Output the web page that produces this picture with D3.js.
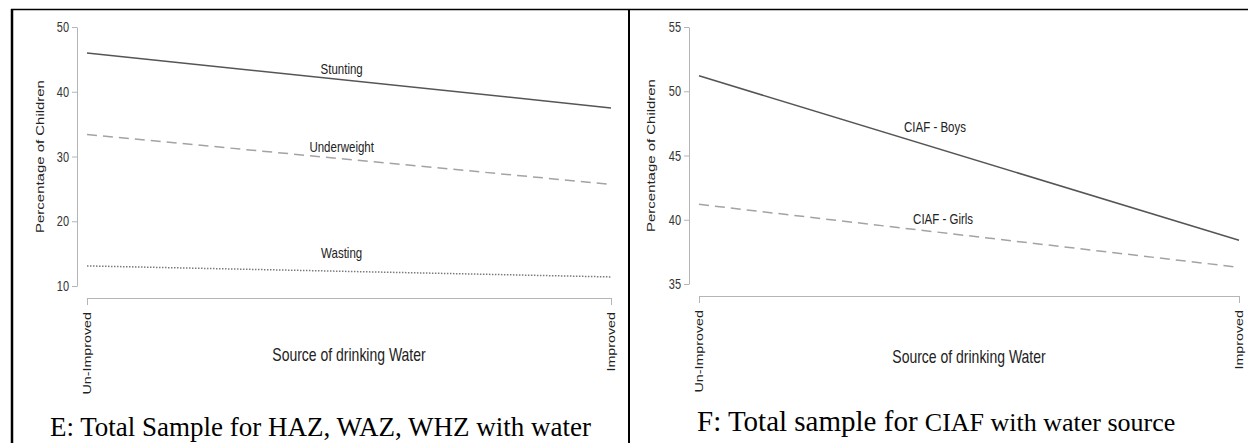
<!DOCTYPE html>
<html>
<head>
<meta charset="utf-8">
<script src="https://cdn.jsdelivr.net/npm/d3@7"></script>
<style>
  body { margin: 0; background: #fff; }
  svg { display: block; }
  .tick-label, .axis-label, .line-label { font-family: 'Liberation Sans', Arial, sans-serif; }
  .caption { font-family: 'Liberation Serif', 'Times New Roman', serif; fill: #000; }
</style>
</head>
<body>
<svg width="1248" height="443"></svg>
<script>
// categories on the x axis (both panels)
const categories = ['Un-Improved', 'Improved'];

// panel E: percentage of children
const stunting = [46.0, 37.5];
const underweight = [33.4, 25.7];
const wasting = [13.1, 11.4];
const leftTicks = [10, 20, 30, 40, 50];
const leftNames = ['Stunting', 'Underweight', 'Wasting'];
const leftLabelAt = [0.486, 0.486, 0.486];
const leftLabelValue = [43.6, 31.5, 15.1];

// panel F: CIAF by sex
const ciafBoys = [51.2, 38.4];
const ciafGirls = [41.2, 36.3];
const rightTicks = [35, 40, 45, 50, 55];
const rightNames = ['CIAF - Boys', 'CIAF - Girls'];
const rightLabelAt = [0.437, 0.452];
const rightLabelValue = [47.2, 40.1];

(function (d3) {
  'use strict';

  const svg = d3.select('svg');
  const stretch = 1.3; // the figure text is drawn tall and narrow

  const styles = {
    solid: { stroke: '#555', dash: null },
    dashed: { stroke: '#a3a3a3', dash: '10,6' },
    dotted: { stroke: '#7a7a7a', dash: '1.5,1.5' }
  };

  const render = p => {
    const g = svg.append('g');

    const xScale = d3.scaleLinear()
      .domain([0, categories.length - 1])
      .range([p.x0, p.x1]);

    const yScale = d3.scaleLinear()
      .domain(d3.extent(p.ticks))
      .range([p.yBottom, p.yTop]);

    // y axis
    const yAxisG = g.append('g')
      .attr('transform', `translate(${p.yAxisX},0)`)
      .call(d3.axisLeft(yScale)
        .tickValues(p.ticks)
        .tickSize(5)
        .tickSizeOuter(0)
        .tickPadding(3));
    yAxisG.selectAll('path, line').attr('stroke', '#b5b5b5');
    yAxisG.selectAll('text')
      .attr('class', 'tick-label')
      .attr('font-size', 11)
      .attr('fill', '#333')
      .attr('transform', `scale(1,${stretch})`);

    // x axis
    const xAxisG = g.append('g')
      .attr('transform', `translate(0,${p.xAxisY})`)
      .call(d3.axisBottom(xScale)
        .tickValues(d3.range(categories.length))
        .tickFormat(i => categories[i])
        .tickSize(7)
        .tickSizeOuter(0));
    xAxisG.selectAll('path, line').attr('stroke', '#b5b5b5');
    xAxisG.selectAll('text')
      .attr('class', 'tick-label')
      .attr('font-size', 11)
      .attr('fill', '#222')
      .attr('text-anchor', 'end')
      .attr('transform', `rotate(-90) scale(${stretch},1)`)
      .attr('x', -14 / stretch)
      .attr('y', 0)
      .attr('dy', '0.35em');

    // axis titles
    g.append('text')
      .attr('class', 'axis-label')
      .attr('transform', `translate(${p.yTitleX},${(p.yTop + p.yBottom) / 2}) rotate(-90) scale(${stretch},1)`)
      .attr('text-anchor', 'middle')
      .attr('dy', '0.35em')
      .attr('font-size', 11.5)
      .attr('fill', '#222')
      .text('Percentage of Children');

    g.append('text')
      .attr('class', 'axis-label')
      .attr('transform', `translate(${(p.x0 + p.x1) / 2},${p.xTitleY}) scale(1,${stretch})`)
      .attr('text-anchor', 'middle')
      .attr('dy', '0.35em')
      .attr('font-size', 14)
      .attr('fill', '#222')
      .text('Source of drinking Water');

    // lines
    const line = d3.line()
      .x((d, i) => xScale(i))
      .y(d => yScale(d));

    g.selectAll('path.series').data(p.series)
      .enter().append('path')
      .attr('class', 'series')
      .attr('d', d => line(d.values))
      .attr('fill', 'none')
      .attr('stroke', d => styles[d.style].stroke)
      .attr('stroke-dasharray', d => styles[d.style].dash)
      .attr('stroke-width', 1.5);

    g.selectAll('text.line-label').data(p.series)
      .enter().append('text')
      .attr('class', 'line-label')
      .attr('transform', d => `translate(${xScale(d.labelAt)},${yScale(d.labelValue)}) scale(1,${stretch})`)
      .attr('text-anchor', 'middle')
      .attr('dy', '0.35em')
      .attr('font-size', 11.5)
      .attr('fill', '#222')
      .text(d => d.name);
  };

  const leftSeries = [stunting, underweight, wasting].map((values, i) => ({
    name: leftNames[i],
    values,
    style: ['solid', 'dashed', 'dotted'][i],
    labelAt: leftLabelAt[i],
    labelValue: leftLabelValue[i]
  }));

  const rightSeries = [ciafBoys, ciafGirls].map((values, i) => ({
    name: rightNames[i],
    values,
    style: ['solid', 'dashed'][i],
    labelAt: rightLabelAt[i],
    labelValue: rightLabelValue[i]
  }));

  render({
    series: leftSeries, ticks: leftTicks,
    x0: 87, x1: 611, yTop: 27, yBottom: 286,
    yAxisX: 77, xAxisY: 298, yTitleX: 40, xTitleY: 355
  });

  render({
    series: rightSeries, ticks: rightTicks,
    x0: 699, x1: 1239, yTop: 27, yBottom: 284,
    yAxisX: 689, xAxisY: 296, yTitleX: 651, xTitleY: 357
  });

  // table borders around the two panels
  const borders = svg.append('g').attr('stroke', '#000');
  borders.append('line').attr('x1', 11).attr('x2', 1248).attr('y1', 9.5).attr('y2', 9.5).attr('stroke-width', 1.5);
  borders.append('line').attr('x1', 12).attr('x2', 12).attr('y1', 9).attr('y2', 443).attr('stroke-width', 2.5);
  borders.append('line').attr('x1', 629).attr('x2', 629).attr('y1', 9).attr('y2', 443).attr('stroke-width', 2);

  // captions under the panels
  svg.append('text')
    .attr('class', 'caption')
    .attr('x', 50)
    .attr('y', 436)
    .attr('font-size', 27)
    .text('E: Total Sample for HAZ, WAZ, WHZ with water');

  const capF = svg.append('text')
    .attr('class', 'caption')
    .attr('x', 697)
    .attr('y', 431)
    .attr('font-size', 29);
  capF.append('tspan').text('F: Total sample for ');
  capF.append('tspan').attr('font-size', 26).text('CIAF with water source');

}(d3));
</script>
</body>
</html>
